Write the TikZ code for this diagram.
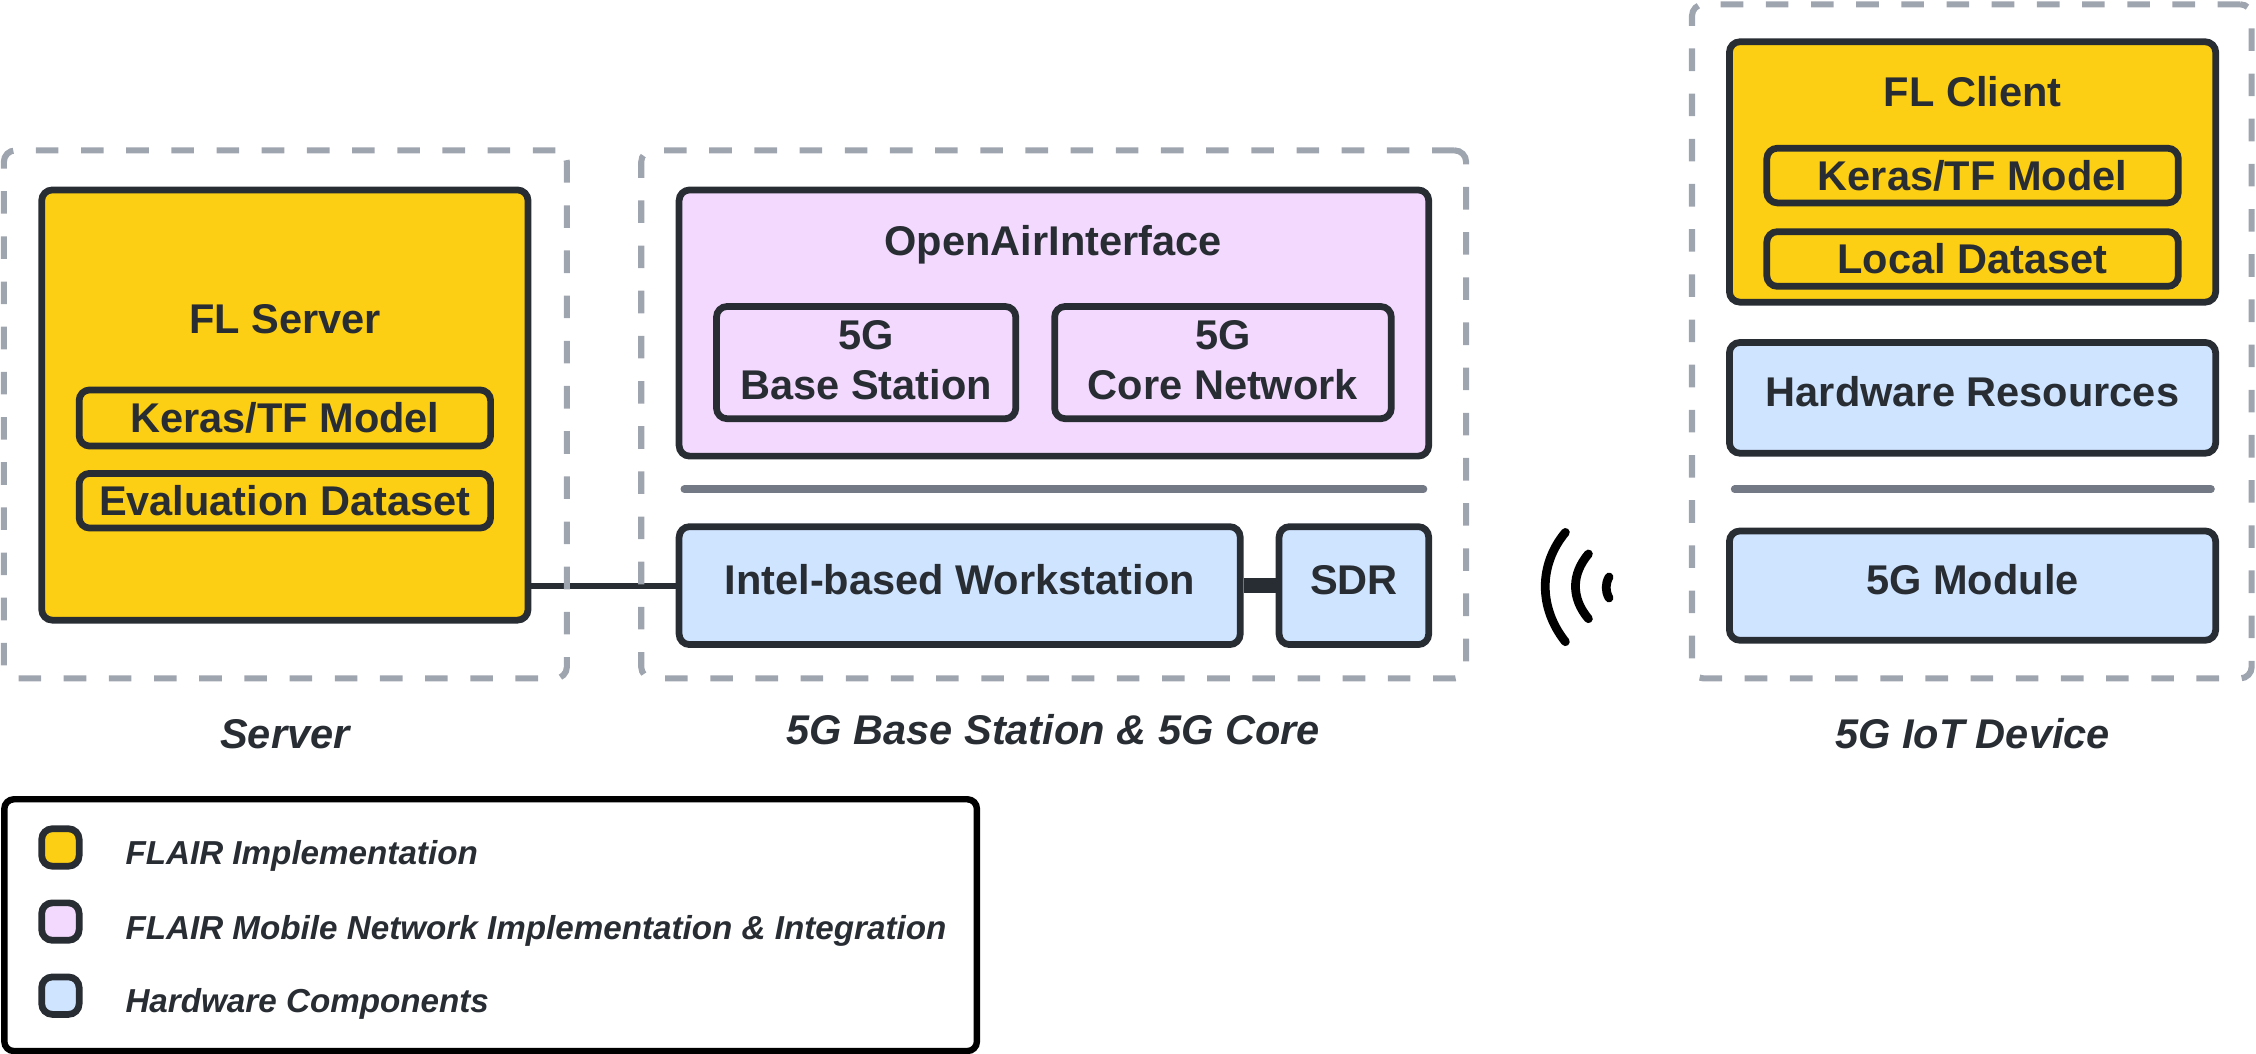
\documentclass[tikz,border=0pt]{standalone}
\usepackage{fontspec}
\setmainfont{Liberation Sans}
\usepackage{xcolor}
\definecolor{flairyellow}{HTML}{FCCE14}
\definecolor{flairpink}{HTML}{F2D9FD}
\definecolor{hwblue}{HTML}{CFE4FF}
\definecolor{inkdark}{HTML}{282C33}
\definecolor{groupgray}{HTML}{9FA5AF}
\definecolor{dividergray}{HTML}{747A85}
\tikzset{
  plainbox/.style={draw=inkdark,line width=4pt,rounded corners=.22cm,inner sep=0pt,text=inkdark},
  implbox/.style={plainbox,fill=flairyellow},
  mobilebox/.style={plainbox,fill=flairpink},
  hwbox/.style={plainbox,fill=hwblue,text height=.62cm,text depth=.24cm},
  groupbox/.style={draw=groupgray,line width=3.6pt,rounded corners=.24cm,dash pattern=on 13.4pt off 13.4pt,inner sep=0pt},
  divider/.style={draw=dividergray,line width=4.6pt,line cap=round},
  wave/.style={line width=5.2pt,line cap=round},
  caption/.style={font=\fontsize{24.65}{30}\selectfont\bfseries\itshape,text=inkdark},
  legendtext/.style={font=\fontsize{19.7}{24}\selectfont\bfseries\itshape,text=inkdark,anchor=base west,inner sep=0pt},
}
\begin{document}
\begin{tikzpicture}[font=\fontsize{24.65}{29.5}\selectfont\bfseries,align=center]
      \useasboundingbox (0,0) rectangle (47.04,21.976);
      % server
      \node[implbox,minimum width=10.14cm,minimum height=8.97cm] (flserver) at (5.94,13.53) {};
      \node[text=inkdark] (flservertitle) at (5.94,15.315) {FL Server};
      \node[plainbox,minimum width=8.58cm,minimum height=1.17cm] (servermodel) at (5.94,13.26) {Keras/TF Model};
      \node[plainbox,minimum width=8.58cm,minimum height=1.14cm] (evaldata) at (5.94,11.535) {Evaluation Dataset};
      % base station and core
      \node[mobilebox,minimum width=15.63cm,minimum height=5.55cm] (oai) at (21.975,15.24) {};
      \node[text=inkdark] (oaititle) at (21.96,16.875) {OpenAirInterface};
      \node[plainbox,text depth=.1cm,minimum width=6.24cm,minimum height=2.34cm] (basestation) at (18.06,14.415) {5G\\Base Station};
      \node[plainbox,text depth=.1cm,minimum width=7.02cm,minimum height=2.34cm] (corenet) at (25.5,14.415) {5G\\Core Network};
      \draw[divider] (14.27,11.775) -- (29.68,11.775);
      \node[hwbox,minimum width=11.7cm,minimum height=2.46cm] (intel) at (20.01,9.765) {Intel-based Workstation};
      \node[hwbox,minimum width=3.12cm,minimum height=2.46cm] (sdr) at (28.23,9.765) {SDR};
      % links
      \draw[draw=inkdark,line width=3.6pt] (flserver.east |- intel.west) -- (intel.west);
      \draw[draw=inkdark,line width=8.5pt] (intel) -- (sdr);
      % device
      \node[implbox,minimum width=10.14cm,minimum height=5.43cm] (flclient) at (41.13,18.39) {};
      \node[text=inkdark] (flclienttitle) at (41.13,20.055) {FL Client};
      \node[plainbox,minimum width=8.58cm,minimum height=1.14cm] (clientmodel) at (41.13,18.315) {Keras/TF Model};
      \node[plainbox,minimum width=8.58cm,minimum height=1.14cm] (localdata) at (41.13,16.575) {Local Dataset};
      \node[hwbox,minimum width=10.14cm,minimum height=2.31cm] (hwres) at (41.13,13.68) {Hardware Resources};
      \draw[divider] (36.17,11.775) -- (46.1,11.775);
      \node[hwbox,minimum width=10.14cm,minimum height=2.28cm] (module) at (41.13,9.765) {5G Module};
      % dashed groups
      \node[groupbox,minimum width=11.74cm,minimum height=11.01cm] (servergroup) at (5.95,13.335) {};
      \node[groupbox,minimum width=17.2cm,minimum height=11.01cm] (basegroup) at (21.97,13.335) {};
      \node[groupbox,minimum width=11.67cm,minimum height=14.055cm] (devicegroup) at (41.115,14.858) {};
      \node[caption] (servercap) at (5.94,6.675) {Server};
      \node[caption] (basecap) at (21.96,6.765) {5G Base Station \& 5G Core};
      \node[caption] (devicecap) at (41.13,6.675) {5G IoT Device};
      % radio waves
      \draw[wave] (32.64,10.875) .. controls (32.08,10.2) and (32.08,9.3) .. (32.64,8.595);
      \draw[wave] (33.12,10.425) .. controls (32.76,10) and (32.76,9.5) .. (33.12,9.075);
      \draw[wave] (33.55,9.945) .. controls (33.47,9.8) and (33.47,9.65) .. (33.55,9.507);
      % legend
      \node[draw=black,line width=3.8pt,rounded corners=.2cm,minimum width=20.28cm,minimum height=5.25cm] (legend) at (10.23,2.685) {};
      \node[implbox,minimum size=.78cm] (keyimpl) at (1.26,4.305) {};
      \node[mobilebox,minimum size=.78cm] (keymobile) at (1.26,2.76) {};
      \node[plainbox,fill=hwblue,minimum size=.78cm] (keyhw) at (1.26,1.215) {};
      \node[legendtext] (textimpl) at (2.61,3.945) {FLAIR Implementation};
      \node[legendtext] (textmobile) at (2.61,2.39) {FLAIR Mobile Network Implementation \& Integration};
      \node[legendtext] (texthw) at (2.61,.855) {Hardware Components};
    \end{tikzpicture}
\end{document}
